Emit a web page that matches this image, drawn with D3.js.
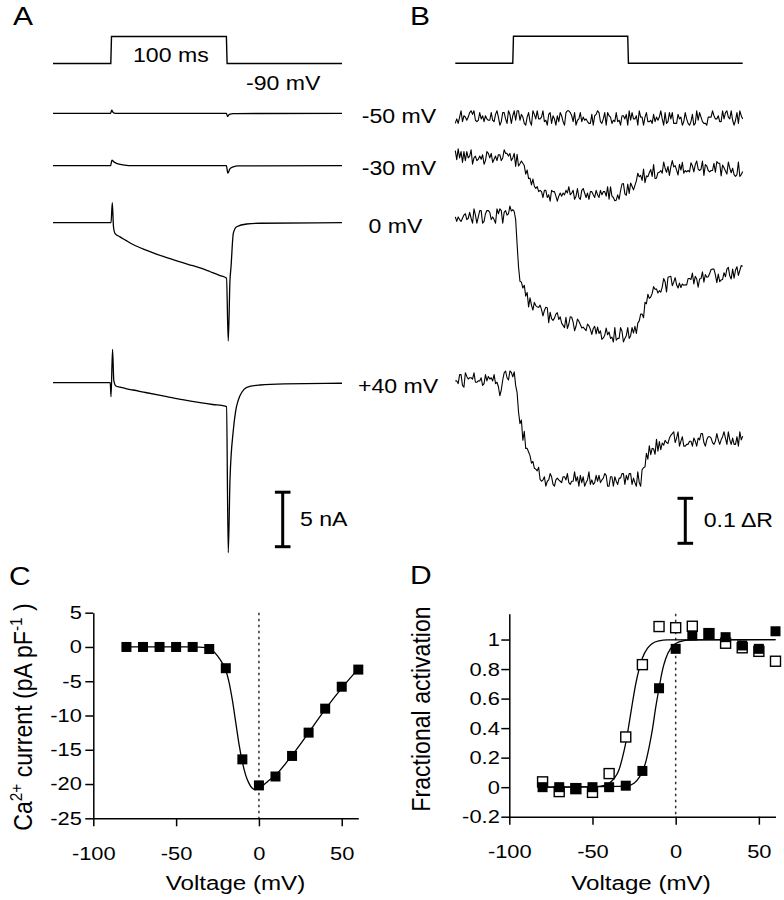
<!DOCTYPE html>
<html><head><meta charset="utf-8">
<script src="https://cdn.jsdelivr.net/npm/d3@7"></script>
<style>
body{margin:0;background:#fff}
text{font-family:"Liberation Sans",Arial,Helvetica,sans-serif;fill:#000}
</style>
</head><body>
<svg id="chart" width="784" height="900"></svg>
<script>
// ================= DATA =================
// Voltage protocol (0 = -90 mV holding, 1 = test pulse), time in ms
const protocolT = [0, 50, 50.6, 150, 150.6, 250];
const protocolV = [0, 0, 1, 1, 0, 0];

// Panel A: membrane currents (nA) vs time (ms)
const aM50T = [0, 49.8, 50.8, 52, 54, 150, 151, 152.5, 156, 250];
const aM50I = [0, 0, 0.28, 0.08, 0, 0, -0.3, -0.1, -0.03, 0];
const aM30T = [0, 49.8, 51, 52.5, 55, 58, 62, 68, 150, 151.2, 153, 156, 160, 250];
const aM30I = [0, 0, 0.52, 0.36, 0.22, 0.12, 0.05, 0, 0, -0.68, -0.3, -0.1, -0.02, 0];
const a0T = [0, 50.2, 51.3, 52.3, 53.6, 58, 63, 69.2, 80, 90, 98.4, 110, 120, 127.2, 136, 144.5, 150.1, 151.6, 153.1, 154, 156, 158.9, 167.6, 179, 250];
const a0I = [0, 0, 1.84, -0.35, -0.97, -1.3, -1.62, -2.0, -2.5, -2.9, -3.2, -3.6, -3.92, -4.15, -4.5, -4.85, -5.1, -10.85, -5.26, -4.04, -0.95, -0.37, -0.12, -0.05, 0];
const aP40T = [0, 49.5, 50.2, 51.5, 52.6, 54.5, 58, 63, 69.2, 80, 98.4, 112, 127.2, 138, 148.8, 150.1, 151.6, 153.1, 156, 158, 160.3, 163.5, 167.6, 179, 200, 250];
const aP40I = [0, 0, -1.28, 3.06, 0.2, -0.3, -0.4, -0.55, -0.67, -0.9, -1.28, -1.56, -1.83, -2.0, -2.14, -2.2, -15.6, -8.9, -4.34, -2.6, -1.59, -0.85, -0.42, -0.21, -0.1, -0.05];
const aLabels = ["-50 mV", "-30 mV", "0 mV", "+40 mV"];

// Panel B: fluorescence ratio change (milli-ΔR), sampled every 1.25 ms from 0 to 250 ms
const bDt = 1.25;
const bM50 = [-12,-2,-12,2,16,-8,5,2,-5,2,
  12,16,8,16,-5,-8,-5,12,-2,5,
  -8,5,-2,-5,-5,12,-5,-8,8,16,
  2,-16,-8,12,12,-2,-12,16,8,-12,
  5,16,-5,16,16,-5,8,2,-12,-16,
  2,12,-8,-16,16,8,-2,16,-2,-2,
  2,16,-8,-5,-16,8,12,-12,5,-2,
  -16,5,-8,12,5,-8,-16,12,16,16,
  12,5,-8,12,-16,-5,-2,12,-8,2,
  -5,-2,-8,-12,-12,8,-16,5,8,16,
  12,-8,-12,-2,12,-16,12,5,2,-12,
  -5,-8,12,-8,-5,-16,5,5,-2,8,
  -16,16,-5,12,-2,-2,5,-16,16,2,
  2,-16,2,12,-8,-8,-5,-12,8,-8,
  2,-5,2,16,-2,-16,12,-12,-8,12,
  -2,12,-12,-12,-12,8,-2,2,-16,-8,
  12,-2,-12,-16,-8,8,-16,-12,16,-5,
  12,2,-8,-12,-12,-16,2,2,2,16,
  5,-2,-2,5,-8,-8,16,-2,12,16,
  2,-2,16,-5,-16,-5,12,-12,16,5,
  -2];
const bM30 = [14,-6,18,-2,12,-12,12,-8,12,-2,
  2,16,-16,-2,2,-8,-5,2,-5,5,
  -16,-8,12,8,-2,8,-12,-5,2,-8,
  5,5,-8,-2,16,8,8,2,8,-8,
  -2,8,-21,6,-20,-15,-9,-14,-19,-38,
  -29,-48,-47,-62,-49,-65,-70,-66,-77,-74,
  -77,-90,-74,-74,-90,-84,-98,-74,-77,-77,
  -87,-98,-87,-80,-87,-80,-84,-74,-80,-66,
  -84,-80,-74,-94,-87,-70,-90,-94,-74,-70,
  -80,-90,-80,-94,-77,-77,-84,-90,-74,-84,
  -90,-74,-84,-77,-77,-87,-66,-94,-66,-87,
  -90,-97,-96,-84,-94,-75,-60,-59,-82,-85,
  -60,-81,-58,-65,-73,-63,-53,-36,-44,-41,
  -52,-27,-57,-42,-44,-35,-28,-43,-17,-48,
  -47,-35,-34,-30,-36,-11,-25,-34,-21,-41,
  -22,-8,-22,-19,-29,-40,-16,-29,-12,-36,
  -30,-33,-30,-33,-13,-20,-33,-17,-9,-27,
  -30,-27,-9,-41,-17,-20,-30,-33,-30,-30,
  -14,-34,-10,-14,-14,-42,-18,-24,-31,-38,
  -11,-25,-35,-25,-39,-43,-39,-11,-43,-39,
  -32];
const b0 = [-2,-12,-2,-8,-12,-5,2,5,-8,-5,
  8,-5,-16,16,2,-16,-2,12,12,-16,
  -12,5,12,12,8,-8,-2,-8,-16,16,
  5,16,12,-16,8,12,2,5,22,11,
  14,10,-8,-62,-113,-145,-147,-160,-154,-178,
  -170,-202,-182,-198,-209,-192,-199,-202,-203,-198,
  -208,-222,-210,-203,-204,-237,-214,-228,-232,-227,
  -218,-215,-230,-224,-238,-243,-248,-225,-250,-240,
  -224,-225,-236,-255,-245,-229,-234,-241,-249,-247,
  -251,-255,-240,-244,-252,-263,-250,-245,-262,-247,
  -261,-255,-274,-271,-265,-249,-264,-258,-272,-269,
  -280,-248,-276,-272,-272,-248,-256,-280,-272,-266,
  -248,-272,-266,-248,-260,-245,-261,-238,-233,-218,
  -218,-226,-192,-195,-174,-183,-180,-172,-157,-163,
  -162,-171,-166,-169,-158,-139,-146,-169,-136,-135,
  -134,-155,-147,-137,-153,-160,-149,-159,-151,-154,
  -153,-153,-139,-139,-141,-127,-151,-134,-140,-158,
  -140,-139,-124,-147,-130,-136,-135,-128,-119,-118,
  -118,-131,-148,-129,-146,-142,-141,-126,-135,-118,
  -114,-133,-140,-118,-138,-120,-113,-132,-121,-110,
  -112];
const bP40 = [-2,-2,-8,12,12,-12,-16,16,8,2,
  5,5,2,16,-5,-5,-2,-2,5,-12,
  -8,12,-2,8,2,5,-2,12,-8,-5,
  -15,-35,-22,0,16,20,5,0,20,17,
  7,18,-12,-28,-71,-97,-89,-134,-114,-152,
  -152,-160,-168,-185,-181,-196,-198,-202,-194,-221,
  -225,-222,-215,-236,-225,-222,-208,-215,-232,-236,
  -222,-218,-222,-225,-228,-215,-215,-222,-208,-228,
  -232,-225,-225,-204,-225,-215,-236,-212,-228,-215,
  -236,-228,-222,-204,-232,-222,-232,-228,-212,-225,
  -212,-228,-222,-218,-208,-212,-236,-236,-215,-215,
  -236,-215,-225,-232,-218,-218,-208,-208,-232,-212,
  -222,-208,-208,-232,-218,-228,-236,-204,-228,-236,
  -199,-195,-193,-163,-176,-146,-166,-152,-153,-165,
  -132,-158,-137,-155,-140,-145,-134,-139,-141,-129,
  -123,-119,-115,-139,-129,-115,-147,-136,-126,-147,
  -147,-143,-143,-136,-136,-147,-129,-136,-147,-129,
  -133,-119,-119,-139,-147,-133,-126,-126,-129,-139,
  -143,-136,-119,-133,-143,-133,-126,-115,-129,-143,
  -115,-133,-143,-129,-143,-143,-126,-147,-115,-133,
  -125];

// Panel C: I-V relation
const cVolt = [-80,-70,-60,-50,-40,-30,-20,-10,0,10,20,30,40,50,60];
const cCurr = [0,0,0,0,0,-0.3,-3.1,-16.4,-20.2,-18.9,-15.9,-12.5,-9.0,-5.8,-3.3];
const cFitV = [-80,-40,-32,-28,-25,-22,-20,-18,-16,-14,-12,-10,-8,-6,-4,-2,0,3,6,10,20,30,40,50,60];
const cFitI = [0,0,-0.1,-0.5,-1.3,-2.4,-3.4,-5.2,-7.8,-11,-14.2,-16.8,-18.7,-19.9,-20.6,-20.8,-20.6,-20.1,-19.5,-18.7,-15.8,-12.5,-9.1,-6.0,-3.2];
const cTicksX = [-100,-50,0,50];
const cTicksY = [-25,-20,-15,-10,-5,0,5];

// Panel D: fractional activation
const dVolt = [-80,-70,-60,-50,-40,-30,-20,-10,0,10,20,30,40,50,60];
const dFilled = [0,0,-0.01,0,0,0.01,0.11,0.67,0.937,1.027,1.04,1.016,0.96,0.937,1.056];
const dOpen = [0.036,-0.03,-0.01,-0.035,0.092,0.34,0.83,1.088,1.08,1.09,1.04,0.975,0.944,0.92,0.853];
const dFitOpenV = [-80,-50,-45,-40,-37,-34,-32,-30,-28,-26,-24,-22,-20,-17,-14,-10,-5,60];
const dFitOpenY = [0,0.002,0.007,0.027,0.058,0.12,0.2,0.3,0.43,0.57,0.7,0.8,0.875,0.94,0.973,0.991,0.998,1];
const dFitFilledV = [-80,-30,-25,-22,-20,-18,-16,-14,-12,-10,-8,-6,-3,0,5,10,60];
const dFitFilledY = [0,0.007,0.027,0.064,0.105,0.17,0.27,0.39,0.54,0.67,0.79,0.87,0.94,0.973,0.993,0.998,1];
const dTicksX = [-100,-50,0,50];
const dTicksY = [-0.2,0,0.2,0.4,0.6,0.8,1];

// ================= DRAWING =================
const svg = d3.select("#chart");
const SX = 1.15, TSX = 1.25;
const zip = (a, b) => a.map((v, i) => [v, b[i]]);

function label(x, y, str, size, sx, anchor) {
  return svg.append("text")
    .attr("transform", `translate(${x},${y}) scale(${sx},1)`)
    .attr("text-anchor", anchor || "start")
    .style("font-size", size + "px").text(str);
}

// ---------- Panel A ----------
const xA = d3.scaleLinear().domain([0, 250]).range([53, 342]);
const pxPerNA = 10.9;
const stepH = 27;
function drawStep(xs, base) {
  const y = d3.scaleLinear().domain([0, 1]).range([base, base - stepH]);
  svg.append("path").datum(zip(protocolT, protocolV))
    .attr("d", d3.line().x(d => xs(d[0])).y(d => y(d[1])))
    .attr("fill", "none").attr("stroke", "#000").attr("stroke-width", 1.4);
}
drawStep(xA, 63.5);
const aTraces = [[aM50T, aM50I, 113.3], [aM30T, aM30I, 165.7], [a0T, a0I, 222.7], [aP40T, aP40I, 382.7]];
aTraces.forEach(([t, I, base]) => {
  const y = d3.scaleLinear().domain([0, 1]).range([base, base - pxPerNA]);
  svg.append("path").datum(zip(t, I))
    .attr("d", d3.line().x(d => xA(d[0])).y(d => y(d[1])).curve(d3.curveMonotoneX))
    .attr("fill", "none").attr("stroke", "#000").attr("stroke-width", 1.3);
});
label(133, 61.7, "100 ms", 21, 1.1);
label(246, 90, "-90 mV", 21, 1.1);
label(361.7, 123, aLabels[0], 21, 1.1);
label(361.7, 175, aLabels[1], 21, 1.1);
label(368.5, 233, aLabels[2], 21, 1.1);
label(358, 393, aLabels[3], 21, 1.1);
function scaleBar(x, yBottom, len, capW) {
  const g = svg.append("g").attr("stroke", "#000").attr("stroke-width", 3);
  g.append("line").attr("x1", x).attr("x2", x).attr("y1", yBottom).attr("y2", yBottom - len);
  g.append("line").attr("x1", x - capW).attr("x2", x + capW).attr("y1", yBottom).attr("y2", yBottom);
  g.append("line").attr("x1", x - capW).attr("x2", x + capW).attr("y1", yBottom - len).attr("y2", yBottom - len);
}
scaleBar(282.7, 546.7, 5 * pxPerNA, 7.8);
label(300, 526, "5 nA", 21, 1.1);

// ---------- Panel B ----------
const xB = d3.scaleLinear().domain([0, 250]).range([455.3, 742.7]);
const pxPerMdR = 0.45;
drawStep(xB, 63.3);
const bTraces = [[bM50, 118], [bM30, 157], [b0, 216], [bP40, 380]];
bTraces.forEach(([vals, base]) => {
  const y = d3.scaleLinear().domain([0, 100]).range([base, base - 100 * pxPerMdR]);
  svg.append("path").datum(vals)
    .attr("d", d3.line().x((d, i) => xB(i * bDt)).y(d => y(d)))
    .attr("fill", "none").attr("stroke", "#000").attr("stroke-width", 1.1).attr("stroke-linejoin", "round");
});
scaleBar(685.3, 543.3, 100 * pxPerMdR, 7.8);
label(703.7, 526.5, "0.1 \u0394R", 21, 1.1);

// panel letters
label(13, 25, "A", 25, 1.2);
label(410, 25, "B", 25, 1.2);
label(9, 585, "C", 25, 1.2);
label(410, 584, "D", 25, 1.2);

// ---------- Axes helper ----------
function styleAxis(g) {
  g.attr("font-size", null).attr("font-family", null);
  g.select(".domain").attr("stroke-width", 1.5);
  g.selectAll(".tick line").attr("stroke-width", 1.5);
}
function leftTicks(g, off) {
  g.selectAll(".tick text").attr("x", null).attr("dy", "0.34em")
    .attr("transform", `translate(${-off},0) scale(${TSX},1)`).style("font-size", "17.5px");
}
function bottomTicks(g) {
  g.selectAll(".tick text").attr("y", null).attr("dy", null)
    .attr("transform", `translate(0,41.5) scale(${TSX},1)`).style("font-size", "17.5px");
}
function rotLabel(x, y, build) {
  const t = svg.append("text").attr("transform", `translate(${x},${y}) rotate(-90) scale(1.1,1.2)`)
    .attr("text-anchor", "middle").style("font-size", "21px");
  build(t);
}
function square(g, data, xs, ys, filled) {
  const s = 10;
  g.selectAll(null).data(data).enter().append("rect")
    .attr("x", d => xs(d[0]) - s / 2).attr("y", d => ys(d[1]) - s / 2)
    .attr("width", s).attr("height", s)
    .attr("fill", filled ? "#000" : "#fff").attr("stroke", "#000").attr("stroke-width", filled ? 0 : 1.4);
}

// ---------- Panel C ----------
const xC = d3.scaleLinear().domain([-100, 60]).range([93.3, 358.3]);
const yC = d3.scaleLinear().domain([-25, 5]).range([818.3, 612.7]);
svg.append("line").attr("x1", xC(0)).attr("x2", xC(0)).attr("y1", yC(5)).attr("y2", yC(-25))
  .attr("stroke", "#333").attr("stroke-width", 1.5).attr("stroke-dasharray", "2.5,3.5");
const gCx = svg.append("g").attr("transform", `translate(0,${yC(-25)})`)
  .call(d3.axisBottom(xC).tickValues(cTicksX).tickFormat(d => String(d)).tickSize(8).tickSizeOuter(0));
styleAxis(gCx); bottomTicks(gCx);
const gCy = svg.append("g").attr("transform", `translate(${xC(-100)},0)`)
  .call(d3.axisLeft(yC).tickValues(cTicksY).tickFormat(d => String(d)).tickSize(8).tickSizeOuter(0));
styleAxis(gCy); leftTicks(gCy, 11.5);
svg.append("path").datum(zip(cFitV, cFitI))
  .attr("d", d3.line().x(d => xC(d[0])).y(d => yC(d[1])).curve(d3.curveMonotoneX))
  .attr("fill", "none").attr("stroke", "#000").attr("stroke-width", 1.3);
square(svg.append("g"), zip(cVolt, cCurr), xC, yC, true);
label(235.5, 890, "Voltage (mV)", 21, SX, "middle");
rotLabel(32, 717, t => {
  t.append("tspan").text("Ca");
  t.append("tspan").attr("dy", -8).style("font-size", "14px").text("2+");
  t.append("tspan").attr("dy", 8).text(" current (pA pF");
  t.append("tspan").attr("dy", -8).style("font-size", "14px").text("-1");
  t.append("tspan").attr("dy", 8).text(" )");
});

// ---------- Panel D ----------
const xD = d3.scaleLinear().domain([-100, 60]).range([509.3, 775.5]);
const yD = d3.scaleLinear().domain([-0.2, 1.175]).range([816.7, 613.7]);
svg.append("line").attr("x1", xD(0)).attr("x2", xD(0)).attr("y1", yD(1.175)).attr("y2", yD(-0.2))
  .attr("stroke", "#333").attr("stroke-width", 1.5).attr("stroke-dasharray", "2.5,3.5");
const gDx = svg.append("g").attr("transform", `translate(0,${yD(-0.2)})`)
  .call(d3.axisBottom(xD).tickValues(dTicksX).tickFormat(d => String(d)).tickSize(8).tickSizeOuter(0));
styleAxis(gDx); bottomTicks(gDx);
const gDy = svg.append("g").attr("transform", `translate(${xD(-100)},0)`)
  .call(d3.axisLeft(yD).tickValues(dTicksY).tickFormat(d => String(d)).tickSize(8).tickSizeOuter(0));
styleAxis(gDy); leftTicks(gDy, 9.5);
[[dFitOpenV, dFitOpenY], [dFitFilledV, dFitFilledY]].forEach(([v, y]) => {
  svg.append("path").datum(zip(v, y))
    .attr("d", d3.line().x(d => xD(d[0])).y(d => yD(d[1])).curve(d3.curveMonotoneX))
    .attr("fill", "none").attr("stroke", "#000").attr("stroke-width", 1.3);
});
square(svg.append("g"), zip(dVolt, dOpen), xD, yD, false);
square(svg.append("g"), zip(dVolt, dFilled), xD, yD, true);
label(641, 890, "Voltage (mV)", 21, SX, "middle");
rotLabel(430, 709, t => t.text("Fractional activation"));
</script>
</body></html>
